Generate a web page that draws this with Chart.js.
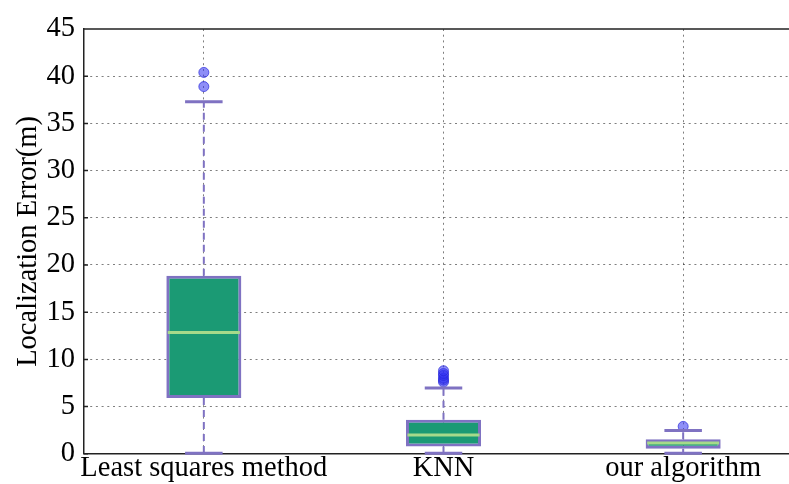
<!DOCTYPE html>
<html>
<head>
<meta charset="utf-8">
<script src="https://cdn.jsdelivr.net/npm/chart.js@4/dist/chart.umd.min.js"></script>
<style>
  html, body { margin: 0; padding: 0; overflow: hidden; background: #fff; }
  #wrap { width: 810px; height: 484px; }
</style>
</head>
<body>
<div id="wrap"><canvas id="c" width="810" height="484"></canvas></div>
<script>
// Box-plot summary of localization error per method (metres)
const categories   = ['Least squares method', 'KNN', 'our algorithm'];
const whiskerLow   = [0.07, 0.05, 0.07];
const quartile1    = [5.9, 0.77, 0.53];
const medians      = [12.85, 2.0, 1.13];
const quartile3    = [18.85, 3.6, 1.55];
const whiskerHigh  = [37.3, 6.96, 2.47];
const outliersLSM  = [38.9, 40.4];
const outliersKNN  = [7.6, 7.8, 8.0, 8.3, 8.5, 8.8];
const outliersOurs = [2.9];
const yTicks       = [0, 5, 10, 15, 20, 25, 30, 35, 40, 45];

const BOX_FILL   = '#1b9a74';
const PURPLE     = '#7f72c2';
const MEDIAN_CLR = '#a6da8a';
const GRID_CLR   = 'rgba(0,0,0,0.5)';
const FONT       = '"Liberation Serif", "DejaVu Serif", serif';
const FONT_SIZE  = 28.5;

const outlierPoints = [];
[outliersLSM, outliersKNN, outliersOurs].forEach((vals, i) => {
  vals.forEach(v => outlierPoints.push({ x: categories[i], y: v }));
});

// Whiskers, caps, medians and inward ticks drawn through the chart scales
const boxParts = {
  id: 'boxParts',
  afterDatasetsDraw(chart) {
    const { ctx, scales: { x, y } } = chart;
    const bars = chart.getDatasetMeta(0).data;
    ctx.save();
    categories.forEach((c, i) => {
      const cx = x.getPixelForValue(i);
      const bw = bars[i].width;
      const capHalf = bw / 4;
      // dashed whiskers
      ctx.strokeStyle = PURPLE;
      ctx.lineWidth = 2;
      ctx.setLineDash([7, 5]);
      ctx.beginPath();
      ctx.moveTo(cx, y.getPixelForValue(quartile3[i]));
      ctx.lineTo(cx, y.getPixelForValue(whiskerHigh[i]));
      ctx.moveTo(cx, y.getPixelForValue(quartile1[i]));
      ctx.lineTo(cx, y.getPixelForValue(whiskerLow[i]));
      ctx.stroke();
      // caps
      ctx.setLineDash([]);
      ctx.lineWidth = 3;
      ctx.beginPath();
      [whiskerHigh[i], whiskerLow[i]].forEach(v => {
        const py = y.getPixelForValue(v);
        ctx.moveTo(cx - capHalf, py);
        ctx.lineTo(cx + capHalf, py);
      });
      ctx.stroke();
      // median
      ctx.strokeStyle = MEDIAN_CLR;
      ctx.lineWidth = 3;
      ctx.beginPath();
      const my = y.getPixelForValue(medians[i]);
      ctx.moveTo(cx - bw / 2 + 1.5, my);
      ctx.lineTo(cx + bw / 2 - 1.5, my);
      ctx.stroke();
    });
    ctx.restore();
  },
  afterDraw(chart) {
    const { ctx, chartArea: a, scales: { y } } = chart;
    ctx.save();
    ctx.strokeStyle = '#222';
    ctx.lineWidth = 1.5;
    ctx.beginPath();
    ctx.moveTo(a.left, a.top);
    ctx.lineTo(a.right, a.top);
    yTicks.forEach(v => {
      const py = y.getPixelForValue(v);
      ctx.moveTo(a.left, py);
      ctx.lineTo(a.left + 4, py);
    });
    ctx.stroke();
    ctx.restore();
  }
};

new Chart(document.getElementById('c'), {
  data: {
    labels: categories,
    datasets: [
      {
        type: 'bar',
        data: categories.map((_, i) => [quartile1[i], quartile3[i]]),
        backgroundColor: BOX_FILL,
        borderColor: PURPLE,
        borderWidth: 3,
        borderSkipped: false,
        categoryPercentage: 1,
        barPercentage: 0.313
      },
      {
        type: 'line',
        data: outlierPoints,
        showLine: false,
        pointRadius: 5,
        pointHoverRadius: 5,
        pointBackgroundColor: 'rgba(50,50,240,0.55)',
        pointBorderColor: 'rgba(40,40,220,0.7)',
        pointBorderWidth: 1
      }
    ]
  },
  options: {
    responsive: false,
    animation: false,
    events: [],
    layout: { padding: { top: 29, right: 7, left: 0, bottom: 0 } },
    plugins: { legend: { display: false }, tooltip: { enabled: false } },
    scales: {
      x: {
        type: 'category',
        offset: true,
        z: 1,
        grid: { offset: false, color: GRID_CLR, lineWidth: 1, drawTicks: false },
        border: { display: true, color: '#222', width: 1.5, dash: [2, 3.7] },
        ticks: {
          color: '#000',
          font: { family: FONT, size: FONT_SIZE, lineHeight: 1.06 },
          padding: 0,
          maxRotation: 0,
          autoSkip: false
        }
      },
      y: {
        min: 0,
        max: 45,
        z: 1,
        afterFit(scale) { scale.width = 84; },
        afterBuildTicks(scale) { scale.ticks = yTicks.map(v => ({ value: v })); },
        grid: {
          color: ctx => (ctx.tick && (ctx.tick.value === 0 || ctx.tick.value === 45)) ? 'rgba(0,0,0,0)' : GRID_CLR,
          lineWidth: 1,
          drawTicks: false
        },
        border: { display: true, color: '#222', width: 1.5, dash: [2, 3.7] },
        ticks: { color: '#000', font: { family: FONT, size: FONT_SIZE }, padding: 9 },
        title: {
          display: true,
          text: 'Localization Error(m)',
          color: '#000',
          font: { family: FONT, size: FONT_SIZE },
          padding: { top: 11.4, bottom: 0 }
        }
      }
    }
  },
  plugins: [boxParts]
});
</script>
</body>
</html>
